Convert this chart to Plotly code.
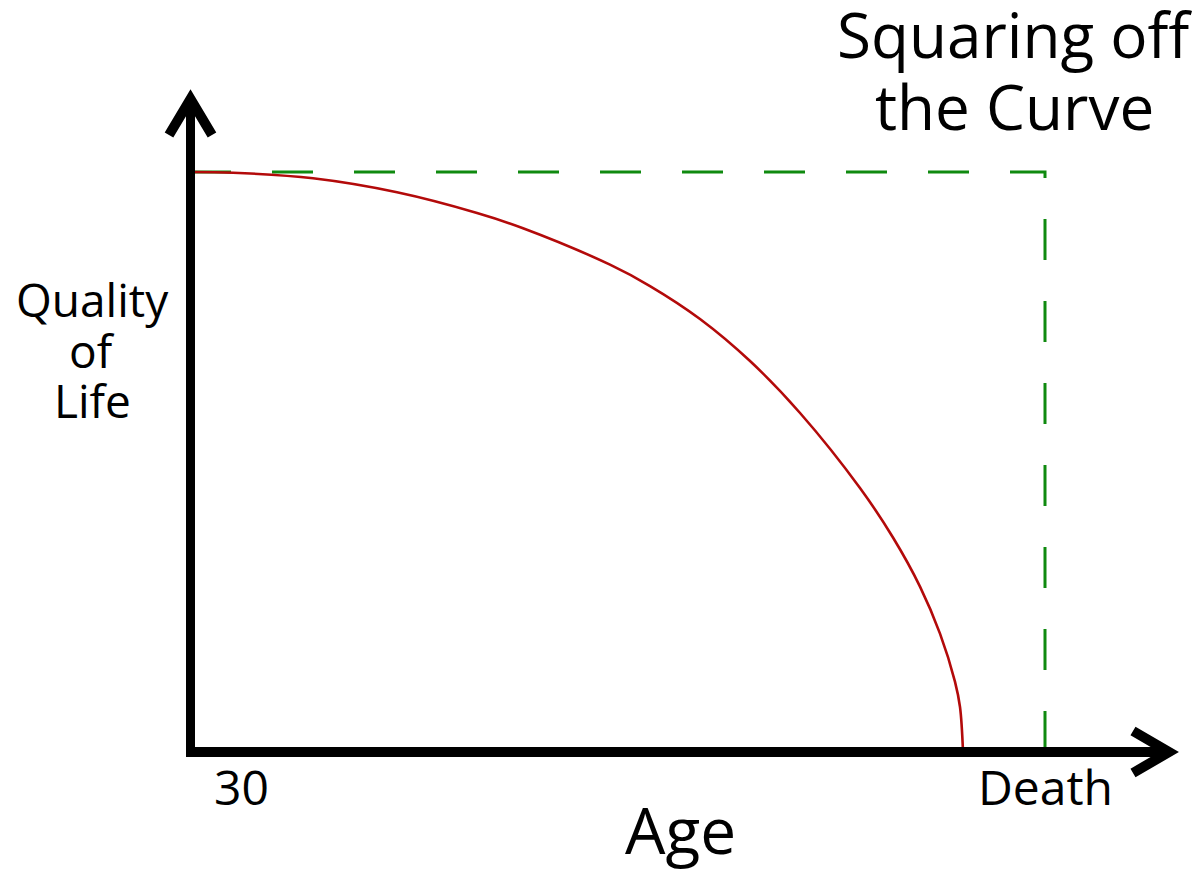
import plotly.graph_objects as go

# ---------------- data ----------------
# x: position along the age axis (0 = age 30, 100 = death)
# y: quality of life (0..100)
curve_age = [0, 5.03, 14.39, 24.21, 33.57, 38.95, 49.12, 53.80, 59.65, 65.50,
             71.35, 78.36, 82.22, 85.38, 87.72, 89.47, 90.06, 90.41]
curve_quality = [100, 99.88, 98.91, 96.50, 92.93, 90.31, 84.02, 80.34, 74.66, 67.41,
                 58.45, 45.52, 36.98, 28.52, 20.41, 12.14, 7.76, 0]

ideal_age = [0, 100, 100]
ideal_quality = [100, 100, 0]

x_tick_vals = [6, 100]
x_tick_text = ["30", "Death"]

title_lines = ["Squaring off", "the Curve"]
y_title_lines = ["Quality", "of", "Life"]
x_title = "Age"

# ---------------- layout geometry (window pixels) ----------------
WIN_W, WIN_H = 1200, 878
PAGE_MARGIN = 8                      # default body margin of the html page
W, H = WIN_W - PAGE_MARGIN, WIN_H - PAGE_MARGIN
X0_PX, X1_PX = 190, 1045   # x data 0 and 100
Y0_PX, Y1_PX = 752, 172    # y data 0 and 100
XS = (X1_PX - X0_PX) / 100.0
YS = (Y0_PX - Y1_PX) / 100.0


def dx(px):
    return (px - X0_PX) / XS


def dy(py):
    return (Y0_PX - py) / YS


FONT = "Open Sans, Noto Sans, DejaVu Sans, sans-serif"

fig = go.Figure()

fig.add_trace(go.Scatter(
    x=ideal_age, y=ideal_quality, mode="lines",
    line=dict(color="#0f8a0f", width=3, dash="41px,41px"),
    hoverinfo="skip", showlegend=False))

fig.add_trace(go.Scatter(
    x=curve_age, y=curve_quality, mode="lines",
    line=dict(color="#b30a0a", width=2.6, shape="spline", smoothing=1.0),
    hoverinfo="skip", showlegend=False))

shapes = []
AX_W = 10
# L-shaped axes (filled bars for a square corner)
shapes.append(dict(type="rect", xref="x", yref="y",
                   x0=dx(186), x1=dx(195), y0=dy(757), y1=dy(100),
                   fillcolor="black", line=dict(width=0), layer="above"))
shapes.append(dict(type="rect", xref="x", yref="y",
                   x0=dx(186), x1=dx(1168), y0=dy(757), y1=dy(747),
                   fillcolor="black", line=dict(width=0), layer="above"))
# arrow chevrons
ya = f"M {dx(169)},{dy(135)} L {dx(190.5)},{dy(99)} L {dx(212)},{dy(135)}"
xa = f"M {dx(1133)},{dy(731)} L {dx(1169)},{dy(752)} L {dx(1133)},{dy(773)}"
for p in (ya, xa):
    shapes.append(dict(type="path", xref="x", yref="y", path=p,
                       line=dict(color="black", width=AX_W), layer="above"))

annotations = []


def text(x, y, s, size):
    annotations.append(dict(x=x, y=y, xref="x", yref="y", text=s,
                            showarrow=False, xanchor="center", yanchor="middle",
                            font=dict(family=FONT, size=size, color="black")))


# tick labels
for v, t in zip(x_tick_vals, x_tick_text):
    text(v, dy(786), t, 48)
# x title
text(dx(680), dy(829), x_title, 64)
# y title lines
for i, s in enumerate(y_title_lines):
    text(dx(92), dy(299 + i * 50.5), s, 46)
# chart title lines
for i, s in enumerate(title_lines):
    text(dx(1014), dy(34 + i * 72), s, 62)

fig.update_layout(
    width=W, height=H,
    margin=dict(l=0, r=0, t=0, b=0),
    paper_bgcolor="white", plot_bgcolor="white",
    xaxis=dict(range=[dx(PAGE_MARGIN), dx(WIN_W)], visible=False, fixedrange=True),
    yaxis=dict(range=[dy(WIN_H), dy(PAGE_MARGIN)], visible=False, fixedrange=True),
    shapes=shapes, annotations=annotations,
    showlegend=False,
)

fig.write_html("out.html")
